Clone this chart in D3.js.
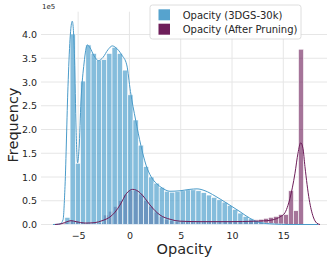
<!DOCTYPE html>
<html>
<head>
<meta charset="utf-8">
<script src="https://cdn.jsdelivr.net/npm/d3@7"></script>
<style>
  body { margin: 0; background: #fff; }
  text { font-family: "DejaVu Sans", sans-serif; fill: #262626; }
</style>
</head>
<body>
<div id="chart"></div>
<script>
// histogram counts, in units of 1e5
var blueStart = -6.296, blueWidth = 0.511;
var blueCounts = [0.15, 4.01, 1.29, 3.02, 3.78, 3.6, 3.46, 3.47, 3.6, 3.73, 3.6,
  3.25, 2.73, 2.2, 1.67, 1.22, 1.0, 0.87, 0.78, 0.7, 0.68, 0.69, 0.71, 0.73,
  0.73, 0.71, 0.67, 0.62, 0.57, 0.52, 0.47, 0.4, 0.32, 0.24, 0.17, 0.12, 0.08,
  0.05, 0.03, 0.02, 0.01, 0.01];

var purpleStart = -6.43, purpleWidth = 0.4875;
var purpleCounts = [0.05, 0.09, 0.07, 0.04, 0.03, 0.03, 0.03, 0.04, 0.2, 0.28,
  0.38, 0.5, 0.63, 0.72, 0.72, 0.64, 0.5, 0.38, 0.26, 0.17, 0.11, 0.08, 0.06,
  0.06, 0.06, 0.06, 0.06, 0.06, 0.06, 0.06, 0.06, 0.06, 0.07, 0.07, 0.07, 0.08,
  0.08, 0.09, 0.1, 0.11, 0.13, 0.15, 0.17, 0.21, 0.21, 0.71, 0.29, 3.69];

// kde curves: [x, count 1e5]
var blueKdeX = [-7.45, -6.76, -6.47, -6.28, -5.99, -5.79, -5.57, -5.35, -5.2, -5.06,
  -4.91, -4.72, -4.42, -4.1, -3.84, -3.45, -3.01, -2.57, -2.09, -1.67, -1.31,
  -0.75, -0.26, 0.1, 0.605, 1.11, 1.62, 2.13, 2.65, 3.18, 3.95, 4.93, 5.9, 6.59,
  7.37, 8.35, 9.48, 10.78, 11.75, 12.73, 14.0, 15.65, 18.4];
var blueKdeY = [0, 0.01, 0.1, 0.8, 2.9, 3.9, 4.28, 3.5, 2.0, 1.3,
  1.6, 2.6, 3.4, 3.78, 3.72, 3.55, 3.45, 3.52, 3.68, 3.76, 3.72,
  3.57, 3.36, 2.8, 2.2, 1.67, 1.25, 1.0, 0.86, 0.77, 0.7, 0.71, 0.74, 0.75,
  0.71, 0.6, 0.45, 0.27, 0.13, 0.04, 0.01, 0, 0];

var purpleKdeX = [-7.25, -6.57, -6.08, -5.69, -5.2, -4.33, -3.35, -2.67, -1.89,
  -1.4, -0.92, -0.26, 0.32, 1.03, 1.52, 2.01, 2.5, 2.98, 3.96, 4.93, 6.88, 9.8,
  12.24, 13.38, 14.0, 14.68, 15.17, 15.45, 15.65, 16.14, 16.43, 16.7, 16.92,
  17.11, 17.53, 17.92, 18.26, 18.58];
var purpleKdeY = [0, 0.02, 0.06, 0.08, 0.06, 0.03, 0.04, 0.08, 0.16,
  0.26, 0.41, 0.66, 0.74, 0.67, 0.55, 0.41, 0.29, 0.2, 0.11, 0.07, 0.06, 0.06,
  0.07, 0.08, 0.1, 0.16, 0.25, 0.4, 0.55, 1.08, 1.5, 1.72, 1.6,
  1.22, 0.52, 0.16, 0.03, 0];

var xTicks = [-5, 0, 5, 10, 15];
var yTicks = [0, 0.5, 1, 1.5, 2, 2.5, 3, 3.5, 4];
var legendLabels = ['Opacity (3DGS-30k)', 'Opacity (After Pruning)'];

var blue = '#56a3ce', purple = '#6e1e5a';

var width = 332, height = 260;
var plot = { left: 41, right: 327, top: 11.7, bottom: 224.5 };

var x = d3.scaleLinear().domain([-8.62, 19.26]).range([plot.left, plot.right]);
var y = d3.scaleLinear().domain([0, 4.48]).range([plot.bottom, plot.top]);

var svg = d3.select('#chart')
  .append('svg')
    .attr('width', width)
    .attr('height', height);

// grid
svg.append('g')
  .selectAll('line')
  .data(yTicks)
  .enter().append('line')
    .attr('x1', plot.left).attr('x2', plot.right)
    .attr('y1', function (d) { return y(d); })
    .attr('y2', function (d) { return y(d); })
    .attr('stroke', '#e6e6e6').attr('stroke-width', 1);
svg.append('g')
  .selectAll('line')
  .data(xTicks)
  .enter().append('line')
    .attr('x1', function (d) { return x(d); })
    .attr('x2', function (d) { return x(d); })
    .attr('y1', plot.top).attr('y2', plot.bottom)
    .attr('stroke', '#e6e6e6').attr('stroke-width', 1);

function bars(counts, start, w, color, op) {
  svg.append('g')
    .selectAll('rect')
    .data(counts)
    .enter().append('rect')
      .attr('x', function (d, i) { return x(start + i * w); })
      .attr('width', x(w) - x(0))
      .attr('y', function (d) { return y(d); })
      .attr('height', function (d) { return y(0) - y(d); })
      .attr('fill', color)
      .attr('fill-opacity', op)
      .attr('stroke', '#fff')
      .attr('stroke-width', 0.6);
}

bars(purpleCounts, purpleStart, purpleWidth, purple, 0.62);
bars(blueCounts, blueStart, blueWidth, blue, 0.72);

var line = d3.line()
  .x(function (d) { return x(d[0]); })
  .y(function (d) { return y(d[1]); })
  .curve(d3.curveMonotoneX);

svg.append('path')
  .datum(d3.zip(blueKdeX, blueKdeY))
  .attr('d', line)
  .attr('fill', 'none')
  .attr('stroke', '#4a9bc9')
  .attr('stroke-width', 1);
svg.append('path')
  .datum(d3.zip(purpleKdeX, purpleKdeY))
  .attr('d', line)
  .attr('fill', 'none')
  .attr('stroke', purple)
  .attr('stroke-width', 1);

// axes (labels only, seaborn whitegrid has no spines)
var xAxis = svg.append('g')
  .attr('transform', 'translate(0,' + plot.bottom + ')')
  .call(d3.axisBottom(x).tickValues(xTicks).tickSize(0).tickPadding(8)
    .tickFormat(function (d) { return d < 0 ? '\u2212' + (-d) : d; }));
var yAxis = svg.append('g')
  .attr('transform', 'translate(' + plot.left + ',0)')
  .call(d3.axisLeft(y).tickValues(yTicks).tickSize(0).tickPadding(4)
    .tickFormat(d3.format('.1f')));
[xAxis, yAxis].forEach(function (a) {
  a.select('.domain').remove();
  a.selectAll('text')
    .style('font-family', '"DejaVu Sans", sans-serif')
    .style('font-size', '9.5px')
    .attr('fill', '#262626');
});

svg.append('text')
  .attr('x', 42).attr('y', 8.5)
  .style('font-size', '7px')
  .text('1e5');

svg.append('text')
  .attr('x', (plot.left + plot.right) / 2 + 0.5)
  .attr('y', 253.5)
  .attr('text-anchor', 'middle')
  .style('font-size', '14.5px')
  .text('Opacity');

svg.append('text')
  .attr('transform', 'translate(17.5,125) rotate(-90)')
  .attr('text-anchor', 'middle')
  .style('font-size', '14.5px')
  .text('Frequency');

// legend
var legend = svg.append('g');
legend.append('rect')
  .attr('x', 150).attr('y', 5)
  .attr('width', 151).attr('height', 34)
  .attr('rx', 2.5)
  .attr('fill', '#fff').attr('fill-opacity', 0.9)
  .attr('stroke', '#d6d6d6').attr('stroke-width', 0.8);
legend.selectAll('g.item')
  .data(legendLabels)
  .enter().append('g')
    .classed('item', true)
    .each(function (d, i) {
      var g = d3.select(this);
      g.append('rect')
        .attr('x', 158.5).attr('y', 9.3 + i * 14.4)
        .attr('width', 11.5).attr('height', 11)
        .attr('fill', i === 0 ? blue : purple);
      g.append('text')
        .attr('x', 182.7).attr('y', 18.5 + i * 14.4)
        .style('font-size', '10px')
        .text(d);
    });
</script>
</body>
</html>
